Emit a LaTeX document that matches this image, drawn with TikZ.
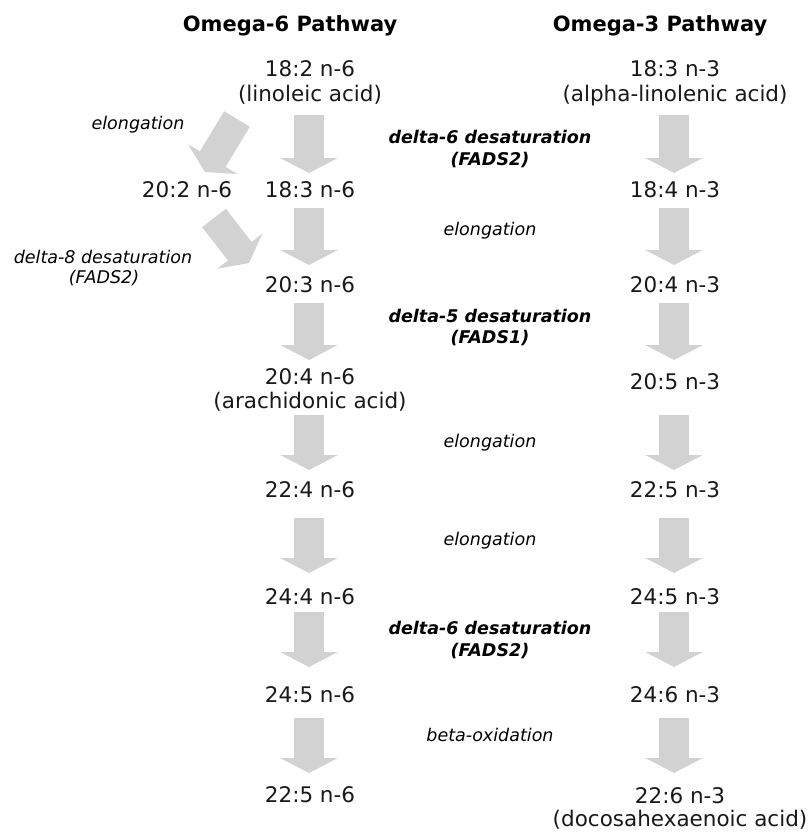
\documentclass[tikz,border=0pt]{standalone}
\usepackage{fontspec}
\setmainfont{DejaVu Sans}
\usetikzlibrary{arrows.meta}
\definecolor{arrowgray}{RGB}{210,210,210}
\definecolor{txt}{RGB}{25,25,25}
\begin{document}
\begin{tikzpicture}[x=1pt,y=-1pt,
  lbl/.style={anchor=base, inner sep=0pt, text=txt, font=\fontsize{21.5}{26}\selectfont},
  hdr/.style={anchor=base, inner sep=0pt, text=black, font=\fontsize{21}{26}\selectfont\bfseries},
  enz/.style={anchor=base, inner sep=0pt, text=black, font=\fontsize{17.5}{21}\selectfont\itshape},
  enzb/.style={anchor=base, inner sep=0pt, text=black, font=\fontsize{17.5}{21}\selectfont\bfseries\itshape},
  blockarrow/.style={draw=arrowgray, line width=30pt, -{Triangle[length=15pt,width=57pt]}}]
\useasboundingbox (0,0) rectangle (809,832);
% headers
\node[hdr] (h6) at (290,32) {Omega-6 Pathway};
\node[hdr] (h3) at (660,32) {Omega-3 Pathway};
% omega-6 column
\node[lbl] (a1) at (310,77) {18:2 n-6};
\node[lbl] (a1n) at (310,102) {(linoleic acid)};
\node[lbl] (a2) at (310,197) {18:3 n-6};
\node[lbl] (a2x) at (187,197) {20:2 n-6};
\node[lbl] (a3) at (310,292) {20:3 n-6};
\node[lbl] (a4) at (310,384) {20:4 n-6};
\node[lbl] (a4n) at (310,408) {(arachidonic acid)};
\node[lbl] (a5) at (310,497) {22:4 n-6};
\node[lbl] (a6) at (310,604) {24:4 n-6};
\node[lbl] (a7) at (310,702) {24:5 n-6};
\node[lbl] (a8) at (310,802) {22:5 n-6};
% omega-3 column
\node[lbl] (b1) at (675,77) {18:3 n-3};
\node[lbl] (b1n) at (675,102) {(alpha-linolenic acid)};
\node[lbl] (b2) at (675,197) {18:4 n-3};
\node[lbl] (b3) at (675,292) {20:4 n-3};
\node[lbl] (b4) at (675,389) {20:5 n-3};
\node[lbl] (b5) at (675,497) {22:5 n-3};
\node[lbl] (b6) at (675,604) {24:5 n-3};
\node[lbl] (b7) at (675,702) {24:6 n-3};
\node[lbl] (b8) at (680,803) {22:6 n-3};
\node[lbl] (b8n) at (680,826) {(docosahexaenoic acid)};
% enzyme labels
\node[enzb] (e1) at (490,143) {delta-6 desaturation};
\node[enzb] (e1b) at (490,165) {(FADS2)};
\node[enz] (e2) at (490,235) {elongation};
\node[enzb] (e3) at (490,322) {delta-5 desaturation};
\node[enzb] (e3b) at (490,343) {(FADS1)};
\node[enz] (e4) at (490,447) {elongation};
\node[enz] (e5) at (490,545) {elongation};
\node[enzb] (e6) at (490,634) {delta-6 desaturation};
\node[enzb] (e6b) at (490,656) {(FADS2)};
\node[enz] (e7) at (490,741) {beta-oxidation};
\node[enz] (s1) at (138,129) {elongation};
\node[enz] (s2) at (103,263) {delta-8 desaturation};
\node[enz] (s2b) at (104,283) {(FADS2)};
% arrow end points
\foreach \i/\t/\b in {1/115/173,2/208/265,3/303/360,4/415/470,5/518/573,6/612/667,7/718/773}{
  \coordinate (pL\i) at (309,\t);
  \coordinate (qL\i) at (309,\b);
  \coordinate (pR\i) at (674,\t);
  \coordinate (qR\i) at (674,\b);
}
\coordinate (d1s) at (237,119);
\coordinate (d1e) at (205,172);
\coordinate (d2s) at (214,218);
\coordinate (d2e) at (249,263);
% arrows
\foreach \i in {1,...,7}{
  \draw[blockarrow] (pL\i) -- (qL\i);
  \draw[blockarrow] (pR\i) -- (qR\i);
}
\draw[blockarrow] (d1s) -- (d1e);
\draw[blockarrow] (d2s) -- (d2e);
\end{tikzpicture}
\end{document}
